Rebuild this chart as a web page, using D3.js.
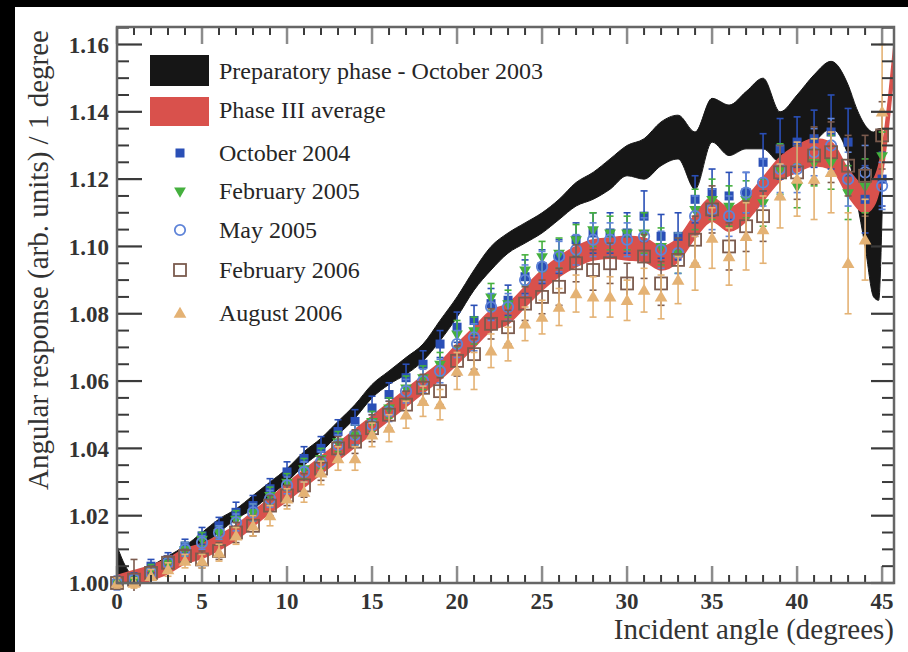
<!DOCTYPE html>
<html><head><meta charset="utf-8">
<script src="https://cdn.jsdelivr.net/npm/d3@7"></script>
<style>
html,body{margin:0;padding:0;background:#000;}
svg{display:block;}
text{font-family:"Liberation Serif","DejaVu Serif",serif;}
</style></head>
<body>
<svg id="c" width="908" height="652"></svg>
<script>
// ---------------- DATA ----------------
const angles = [0,1,2,3,4,5,6,7,8,9,10,11,12,13,14,15,16,17,18,19,20,21,22,23,24,25,26,27,28,29,30,31,32,33,34,35,36,37,38,39,40,41,42,43,44,45];

const oct2004 = [1.000,1.001,1.005,1.007,1.011,1.014,1.017,1.021,1.023,1.028, 1.033,1.037,1.040,1.045,1.048,1.052,1.056,1.061,1.065,1.071, 1.076,1.078,1.083,1.084,1.091,1.094,1.097,1.102,1.104,1.104, 1.104,1.109,1.103,1.103,1.114,1.116,1.115,1.116,1.125,1.129, 1.131,1.132,1.134,1.131,1.114,1.120];
const oct2004Err = [0.002,0.002,0.002,0.002,0.002,0.0025,0.0025,0.003,0.003,0.003, 0.003,0.0035,0.0035,0.0035,0.0035,0.0035,0.0035,0.004,0.004,0.004, 0.0045,0.0045,0.0045,0.0045,0.005,0.005,0.005,0.005,0.006,0.006, 0.006,0.0075,0.0065,0.007,0.007,0.007,0.007,0.006,0.0085,0.009, 0.0075,0.0085,0.011,0.010,0.010,0.008];

const feb2005 = [1.000,1.001,1.004,1.006,1.010,1.013,1.015,1.019,1.021,1.026, 1.030,1.034,1.037,1.042,1.044,1.048,1.052,1.058,1.061,1.065, 1.074,1.075,1.085,1.083,1.093,1.097,1.098,1.102,1.105,1.104, 1.104,1.104,1.100,1.098,1.111,1.114,1.112,1.114,1.113,1.123, 1.118,1.125,1.125,1.116,1.118,1.127];
const feb2005Err = [0.0015,0.0015,0.0015,0.0015,0.002,0.002,0.002,0.0025,0.0025,0.0025, 0.0025,0.003,0.003,0.003,0.003,0.003,0.003,0.0035,0.0035,0.0035, 0.004,0.004,0.004,0.004,0.0045,0.0045,0.0045,0.0045,0.005,0.005, 0.005,0.006,0.0055,0.006,0.006,0.006,0.006,0.0055,0.007,0.0075, 0.0065,0.007,0.008,0.008,0.008,0.007];

const may2005 = [1.000,1.001,1.003,1.006,1.010,1.012,1.015,1.018,1.021,1.025, 1.029,1.033,1.036,1.041,1.044,1.047,1.051,1.057,1.060,1.063, 1.071,1.073,1.082,1.082,1.090,1.094,1.097,1.099,1.102,1.102, 1.102,1.103,1.099,1.098,1.109,1.111,1.109,1.116,1.119,1.123, 1.123,1.128,1.130,1.120,1.122,1.118];
const may2005Err = [0.0015,0.0015,0.0015,0.002,0.002,0.002,0.002,0.0025,0.0025,0.0025, 0.0025,0.003,0.003,0.003,0.003,0.003,0.003,0.0035,0.0035,0.0035, 0.004,0.004,0.004,0.004,0.0045,0.0045,0.0045,0.0045,0.005,0.005, 0.005,0.0055,0.0055,0.006,0.006,0.006,0.006,0.006,0.007,0.007, 0.007,0.007,0.008,0.008,0.008,0.007];

const feb2006 = [1.000,1.001,1.003,1.006,1.008,1.007,1.0095,1.015,1.017,1.023, 1.026,1.029,1.034,1.040,1.042,1.046,1.050,1.053,1.058,1.057, 1.066,1.068,1.077,1.076,1.083,1.085,1.088,1.095,1.093,1.095, 1.089,1.097,1.089,1.096,1.102,1.111,1.100,1.106,1.109,1.122, 1.122,1.127,1.128,1.124,1.121,1.133];
const feb2006Err = [0.0015,0.006,0.002,0.002,0.002,0.0025,0.0025,0.003,0.003,0.003, 0.003,0.0035,0.0035,0.0035,0.0035,0.004,0.004,0.004,0.004,0.004, 0.0045,0.0045,0.0045,0.005,0.005,0.005,0.0055,0.0055,0.006,0.006, 0.006,0.0065,0.0065,0.0065,0.007,0.007,0.007,0.0075,0.0075,0.008, 0.008,0.0085,0.009,0.009,0.012,0.010];

const aug2006 = [1.000,1.000,1.002,1.004,1.0065,1.0065,1.009,1.014,1.017,1.020, 1.025,1.027,1.0327,1.037,1.037,1.044,1.046,1.050,1.054,1.053, 1.063,1.063,1.069,1.071,1.077,1.079,1.082,1.086,1.085,1.085, 1.084,1.087,1.085,1.090,1.095,1.1025,1.097,1.103,1.105,1.115, 1.120,1.120,1.122,1.095,1.102,1.140];
const aug2006Err = [0.0015,0.0015,0.002,0.002,0.002,0.002,0.0025,0.0025,0.003,0.003, 0.003,0.003,0.0035,0.0035,0.0035,0.0035,0.004,0.004,0.0045,0.0045, 0.0055,0.0055,0.005,0.005,0.005,0.005,0.0055,0.0055,0.006,0.006, 0.006,0.0065,0.0065,0.007,0.008,0.009,0.0085,0.010,0.010,0.0095, 0.011,0.012,0.012,0.015,0.012,0.020];

// Preparatory phase - October 2003 band
const blackX  = [0,0.5,1,2,3,4,5,6,7,8,9,10,11,12,13,14,15,16,17,18,19,20,21,22,23,24,25,26,27,28,29,30,31,32,33,34,35,36,37,38,39,40,41,42,43,43.5,44,44.5,44.8,45];
const blackLo = [1.000,1.000,1.000,1.002,1.005,1.008,1.011,1.015,1.019,1.022, 1.026,1.030,1.035,1.039,1.044,1.049,1.055,1.059,1.062,1.066, 1.072,1.079,1.087,1.093,1.098,1.101,1.104,1.108,1.112,1.114, 1.117,1.121,1.120,1.124,1.126,1.117,1.131,1.127,1.129,1.129, 1.125,1.127,1.131,1.135,1.127,1.114,1.100,1.085,1.084,1.110];
const blackHi = [1.011,1.005,1.002,1.005,1.008,1.011,1.015,1.019,1.022,1.026, 1.030,1.034,1.039,1.043,1.048,1.053,1.059,1.063,1.067,1.071, 1.078,1.085,1.093,1.100,1.104,1.107,1.110,1.114,1.119,1.122, 1.126,1.130,1.132,1.137,1.139,1.134,1.144,1.142,1.146,1.150, 1.140,1.145,1.151,1.155,1.148,1.141,1.136,1.134,1.135,1.135];

// Phase III average band
const redX    = [0,1,2,3,4,5,6,7,8,9,10,11,12,13,14,15,16,17,18,19,20,21,22,23,24,25,26,27,28,29,30,31,32,33,34,35,36,37,38,39,40,41,42,43,44,44.5,45,45.4,45.7];
const redMid  = [1.000,1.0015,1.003,1.005,1.008,1.0095,1.012,1.015,1.019,1.023, 1.027,1.031,1.035,1.039,1.043,1.047,1.051,1.055,1.059,1.063, 1.068,1.073,1.078,1.080,1.085,1.090,1.094,1.097,1.099,1.0995, 1.0995,1.099,1.0965,1.099,1.106,1.111,1.108,1.111,1.117,1.123, 1.126,1.128,1.127,1.119,1.114,1.116,1.125,1.141,1.156];
const redHalf = [0.0022,0.0022,0.0022,0.0022,0.0022,0.0022,0.0022,0.0022,0.0022,0.0022, 0.0026,0.0026,0.0026,0.0026,0.0026,0.0026,0.0026,0.0026,0.0026,0.0026, 0.003,0.003,0.003,0.003,0.003,0.003,0.003,0.003,0.003,0.003, 0.0035,0.0035,0.0035,0.0035,0.0035,0.0035,0.0035,0.0035,0.0035,0.0035, 0.004,0.004,0.004,0.004,0.004,0.004,0.004,0.004,0.004];

const xTicks = [0,5,10,15,20,25,30,35,40,45];
const yTicks = [1.00,1.02,1.04,1.06,1.08,1.10,1.12,1.14,1.16];
const yTickLabels = ["1.00","1.02","1.04","1.06","1.08","1.10","1.12","1.14","1.16"];
const legendLabels = ["Preparatory phase - October 2003","Phase III average","October 2004","February 2005","May 2005","February 2006","August 2006"];
const xTitle = "Incident angle (degrees)";
const yTitle = "Angular response (arb. units) / 1 degree";

// ---------------- DRAW ----------------
const W=908,H=652;
const L=117,R=894,T=27,B=583;
const svg=d3.select("#c");
svg.append("rect").attr("width",W).attr("height",H).attr("fill","#000");
svg.append("rect").attr("x",15).attr("y",7).attr("width",W-15).attr("height",H-7).attr("fill","#fff");

const x=d3.scaleLinear().domain([0,45.7]).range([L,R]);
const y=d3.scaleLinear().domain([1.0,1.1652]).range([B,T]);

const defs=svg.append("defs");
defs.append("clipPath").attr("id","clipBand").append("rect").attr("x",L).attr("y",T).attr("width",R-L).attr("height",B-T);
defs.append("clipPath").attr("id","clipPts").append("rect").attr("x",L-8).attr("y",T).attr("width",R-L+8).attr("height",B-T+8);

const bands=svg.append("g").attr("clip-path","url(#clipBand)");
const blackData=blackX.map((v,i)=>({x:v,lo:blackLo[i],hi:blackHi[i]}));
bands.append("path").datum(blackData)
  .attr("d",d3.area().x(d=>x(d.x)).y0(d=>y(d.lo)).y1(d=>y(d.hi)).curve(d3.curveMonotoneX))
  .attr("fill","#161616").attr("stroke","#161616").attr("stroke-width",1);

const redData=redX.map((v,i)=>({x:v,lo:redMid[i]-redHalf[i],hi:redMid[i]+redHalf[i]}));
bands.append("path").datum(redData)
  .attr("d",d3.area().x(d=>x(d.x)).y0(d=>y(d.lo)).y1(d=>y(d.hi)).curve(d3.curveMonotoneX))
  .attr("fill","#d9514c").attr("stroke","#d9514c").attr("stroke-width",1.5);

const series=[
  {vals:oct2004,err:oct2004Err,color:"#2a4fb6",shape:"sqFill"},
  {vals:feb2005,err:feb2005Err,color:"#45b03e",shape:"triDown"},
  {vals:may2005,err:may2005Err,color:"#5f84d8",shape:"circOpen"},
  {vals:feb2006,err:feb2006Err,color:"#7b5b4e",shape:"sqOpen"},
  {vals:aug2006,err:aug2006Err,color:"#e4b274",shape:"triUp"}
];

function drawMarker(g,shape,color,cx,cy){
  if(shape==="sqFill"){
    g.append("rect").attr("x",cx-4.5).attr("y",cy-4.5).attr("width",9).attr("height",9).attr("fill",color);
  } else if(shape==="triDown"){
    g.append("path").attr("d",d3.symbol(d3.symbolTriangle,60)()).attr("transform",`translate(${cx},${cy}) rotate(180)`).attr("fill",color);
  } else if(shape==="circOpen"){
    g.append("circle").attr("cx",cx).attr("cy",cy).attr("r",5.2).attr("fill","none").attr("stroke",color).attr("stroke-width",1.8);
  } else if(shape==="sqOpen"){
    g.append("rect").attr("x",cx-6).attr("y",cy-6).attr("width",12).attr("height",12).attr("fill","none").attr("stroke",color).attr("stroke-width",1.8);
  } else if(shape==="triUp"){
    g.append("path").attr("d",d3.symbol(d3.symbolTriangle,70)()).attr("transform",`translate(${cx},${cy+1})`).attr("fill",color);
  }
}

const pts=svg.append("g").attr("clip-path","url(#clipPts)");
series.forEach(s=>{
  const g=pts.append("g");
  angles.forEach((a,i)=>{
    const cx=x(a), v=s.vals[i], e=s.err[i];
    const y1=y(v+e), y0=y(v-e);
    g.append("line").attr("x1",cx).attr("x2",cx).attr("y1",y1).attr("y2",y0).attr("stroke",s.color).attr("stroke-width",1.6);
    g.append("line").attr("x1",cx-3.5).attr("x2",cx+3.5).attr("y1",y1).attr("y2",y1).attr("stroke",s.color).attr("stroke-width",1.6);
    g.append("line").attr("x1",cx-3.5).attr("x2",cx+3.5).attr("y1",y0).attr("y2",y0).attr("stroke",s.color).attr("stroke-width",1.6);
    drawMarker(g,s.shape,s.color,cx,y(v));
  });
});

// ---- axes / frame ----
const ax=svg.append("g");
const xMinor=d3.range(0,46).filter(v=>v%5!==0);
xMinor.forEach(t=>{
  ax.append("line").attr("x1",x(t)).attr("x2",x(t)).attr("y1",B).attr("y2",B-8).attr("stroke","#3a3a3a").attr("stroke-width",2);
  ax.append("line").attr("x1",x(t)).attr("x2",x(t)).attr("y1",T).attr("y2",T+8).attr("stroke","#3a3a3a").attr("stroke-width",2);
});
xTicks.forEach(t=>{
  ax.append("line").attr("x1",x(t)).attr("x2",x(t)).attr("y1",B).attr("y2",B-17).attr("stroke","#8c8c8c").attr("stroke-width",2.5);
  ax.append("line").attr("x1",x(t)).attr("x2",x(t)).attr("y1",T).attr("y2",T+17).attr("stroke","#8c8c8c").attr("stroke-width",2.5);
});
const yMinor=d3.range(1.005,1.165,0.005).filter(v=>Math.abs(v*100-Math.round(v*50)*2)>0.1);
yMinor.forEach(t=>{
  ax.append("line").attr("x1",L).attr("x2",L+12).attr("y1",y(t)).attr("y2",y(t)).attr("stroke","#3a3a3a").attr("stroke-width",2);
  ax.append("line").attr("x1",R).attr("x2",R-12).attr("y1",y(t)).attr("y2",y(t)).attr("stroke","#3a3a3a").attr("stroke-width",2);
});
yTicks.forEach(t=>{
  ax.append("line").attr("x1",L).attr("x2",L+25).attr("y1",y(t)).attr("y2",y(t)).attr("stroke","#3a3a3a").attr("stroke-width",2.2);
  ax.append("line").attr("x1",R).attr("x2",R-23).attr("y1",y(t)).attr("y2",y(t)).attr("stroke","#3a3a3a").attr("stroke-width",2.2);
});
ax.append("rect").attr("x",L).attr("y",T).attr("width",R-L).attr("height",B-T).attr("fill","none").attr("stroke","#666").attr("stroke-width",2.5);

// tick labels
yTicks.forEach((t,i)=>{
  ax.append("text").attr("x",109).attr("y",y(t)).attr("dy","0.36em").attr("text-anchor","end")
    .attr("font-size",23).attr("font-weight","bold").attr("fill","#333").text(yTickLabels[i]);
});
xTicks.forEach(t=>{
  ax.append("text").attr("x",x(t)).attr("y",609).attr("text-anchor","middle")
    .attr("font-size",23).attr("font-weight","bold").attr("fill","#333").text(String(t));
});
ax.append("text").attr("x",R).attr("y",639).attr("text-anchor","end").attr("font-size",29).attr("fill","#333").text(xTitle);
ax.append("text").attr("transform","translate(48,260) rotate(-90)").attr("text-anchor","middle").attr("font-size",29).attr("fill","#333").text(yTitle);

// legend
const lg=svg.append("g");
const rowY=[71,110,153,191,230,270,313];
lg.append("rect").attr("x",150).attr("y",55).attr("width",59).attr("height",31).attr("fill","#161616");
lg.append("rect").attr("x",150).attr("y",97).attr("width",59).attr("height",29).attr("fill","#d9514c");
series.forEach((s,i)=>drawMarker(lg,s.shape,s.color,180,rowY[i+2]));
legendLabels.forEach((t,i)=>{
  lg.append("text").attr("x",219).attr("y",rowY[i]+8).attr("font-size",24).attr("fill","#262626").text(t);
});
</script>
</body></html>
